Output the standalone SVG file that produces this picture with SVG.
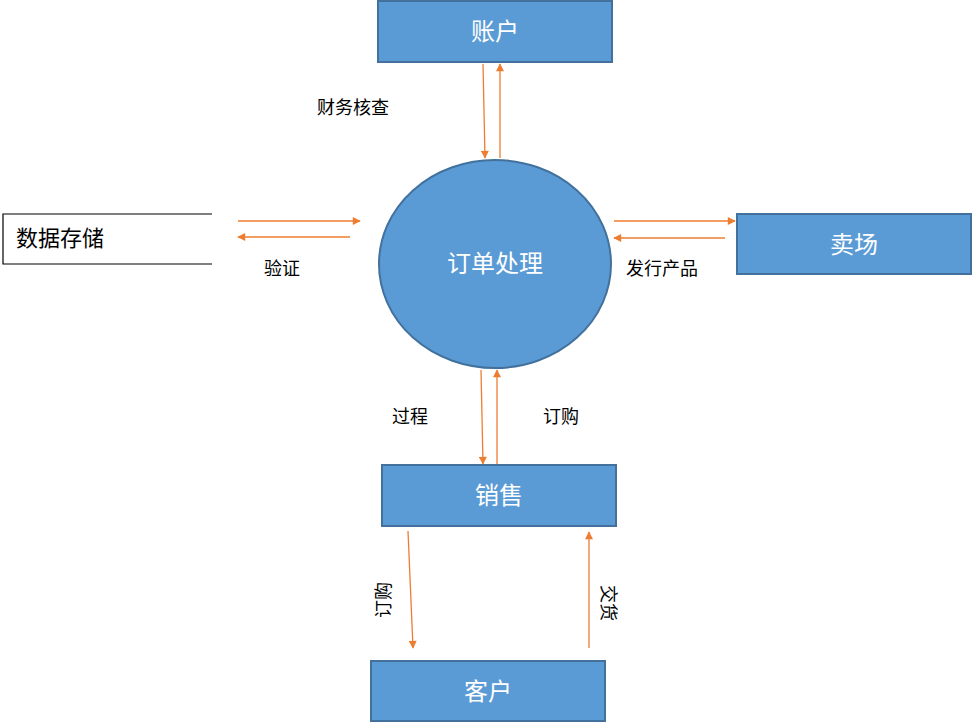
<svg xmlns="http://www.w3.org/2000/svg" width="972" height="727" viewBox="0 0 972 727">
<defs>
<style>
.box{fill:#5b9bd5;stroke:#41719c;stroke-width:2}
.w{fill:#fff;font-family:"Liberation Sans","Noto Sans CJK SC",sans-serif;font-size:24px;text-anchor:middle}
.l{fill:#000;font-family:"Liberation Sans","Noto Sans CJK SC",sans-serif;font-size:18px}
.c line{stroke:#ed7d31;stroke-width:1.3;marker-end:url(#a)}
</style>
<marker id="a" viewBox="0 0 10 10" refX="9" refY="5" markerWidth="10" markerHeight="8" orient="auto" markerUnits="userSpaceOnUse"><path d="M0,0L10,5L0,10z" fill="#ed7d31"/></marker>
</defs>
<rect width="972" height="727" fill="#fff"/>
<g id="account"><rect class="box" x="378" y="1" width="234" height="61"/><text class="w" x="495" y="40">账户</text></g>
<g id="process"><ellipse cx="495" cy="264" rx="116" ry="104" fill="#5b9bd5" stroke="#41719c" stroke-width="2"/><text class="w" x="495" y="272">订单处理</text></g>
<g id="store"><path d="M212,214H3V264H212" fill="none" stroke="#000" stroke-width="1.2"/><text class="l" x="16" y="246" style="font-size:22px">数据存储</text></g>
<g id="market"><rect class="box" x="737" y="214" width="234" height="60"/><text class="w" x="854" y="253">卖场</text></g>
<g id="sales"><rect class="box" x="382" y="465" width="234" height="61"/><text class="w" x="499" y="504">销售</text></g>
<g id="customer"><rect class="box" x="371" y="661" width="234" height="60"/><text class="w" x="488" y="700">客户</text></g>
<g class="c">
<line x1="483" y1="64" x2="485" y2="158"/>
<line x1="500" y1="158" x2="500" y2="64"/>
<line x1="238" y1="221" x2="360" y2="221"/>
<line x1="350" y1="237" x2="238" y2="237"/>
<line x1="614" y1="221" x2="735" y2="221"/>
<line x1="725" y1="238" x2="614" y2="238"/>
<line x1="481" y1="370" x2="483" y2="464"/>
<line x1="497" y1="464" x2="497" y2="370"/>
<line x1="408" y1="531" x2="413" y2="648"/>
<line x1="589" y1="648" x2="589" y2="532"/>
</g>
<g id="labels">
<text class="l" x="317" y="114">财务核查</text>
<text class="l" x="264" y="275">验证</text>
<text class="l" x="626" y="275">发行产品</text>
<text class="l" x="392" y="423">过程</text>
<text class="l" x="543" y="423">订购</text>
<text class="l" transform="translate(390,618) rotate(-90)">订购</text>
<text class="l" transform="translate(602,585) rotate(90)">交货</text>
</g>
</svg>
